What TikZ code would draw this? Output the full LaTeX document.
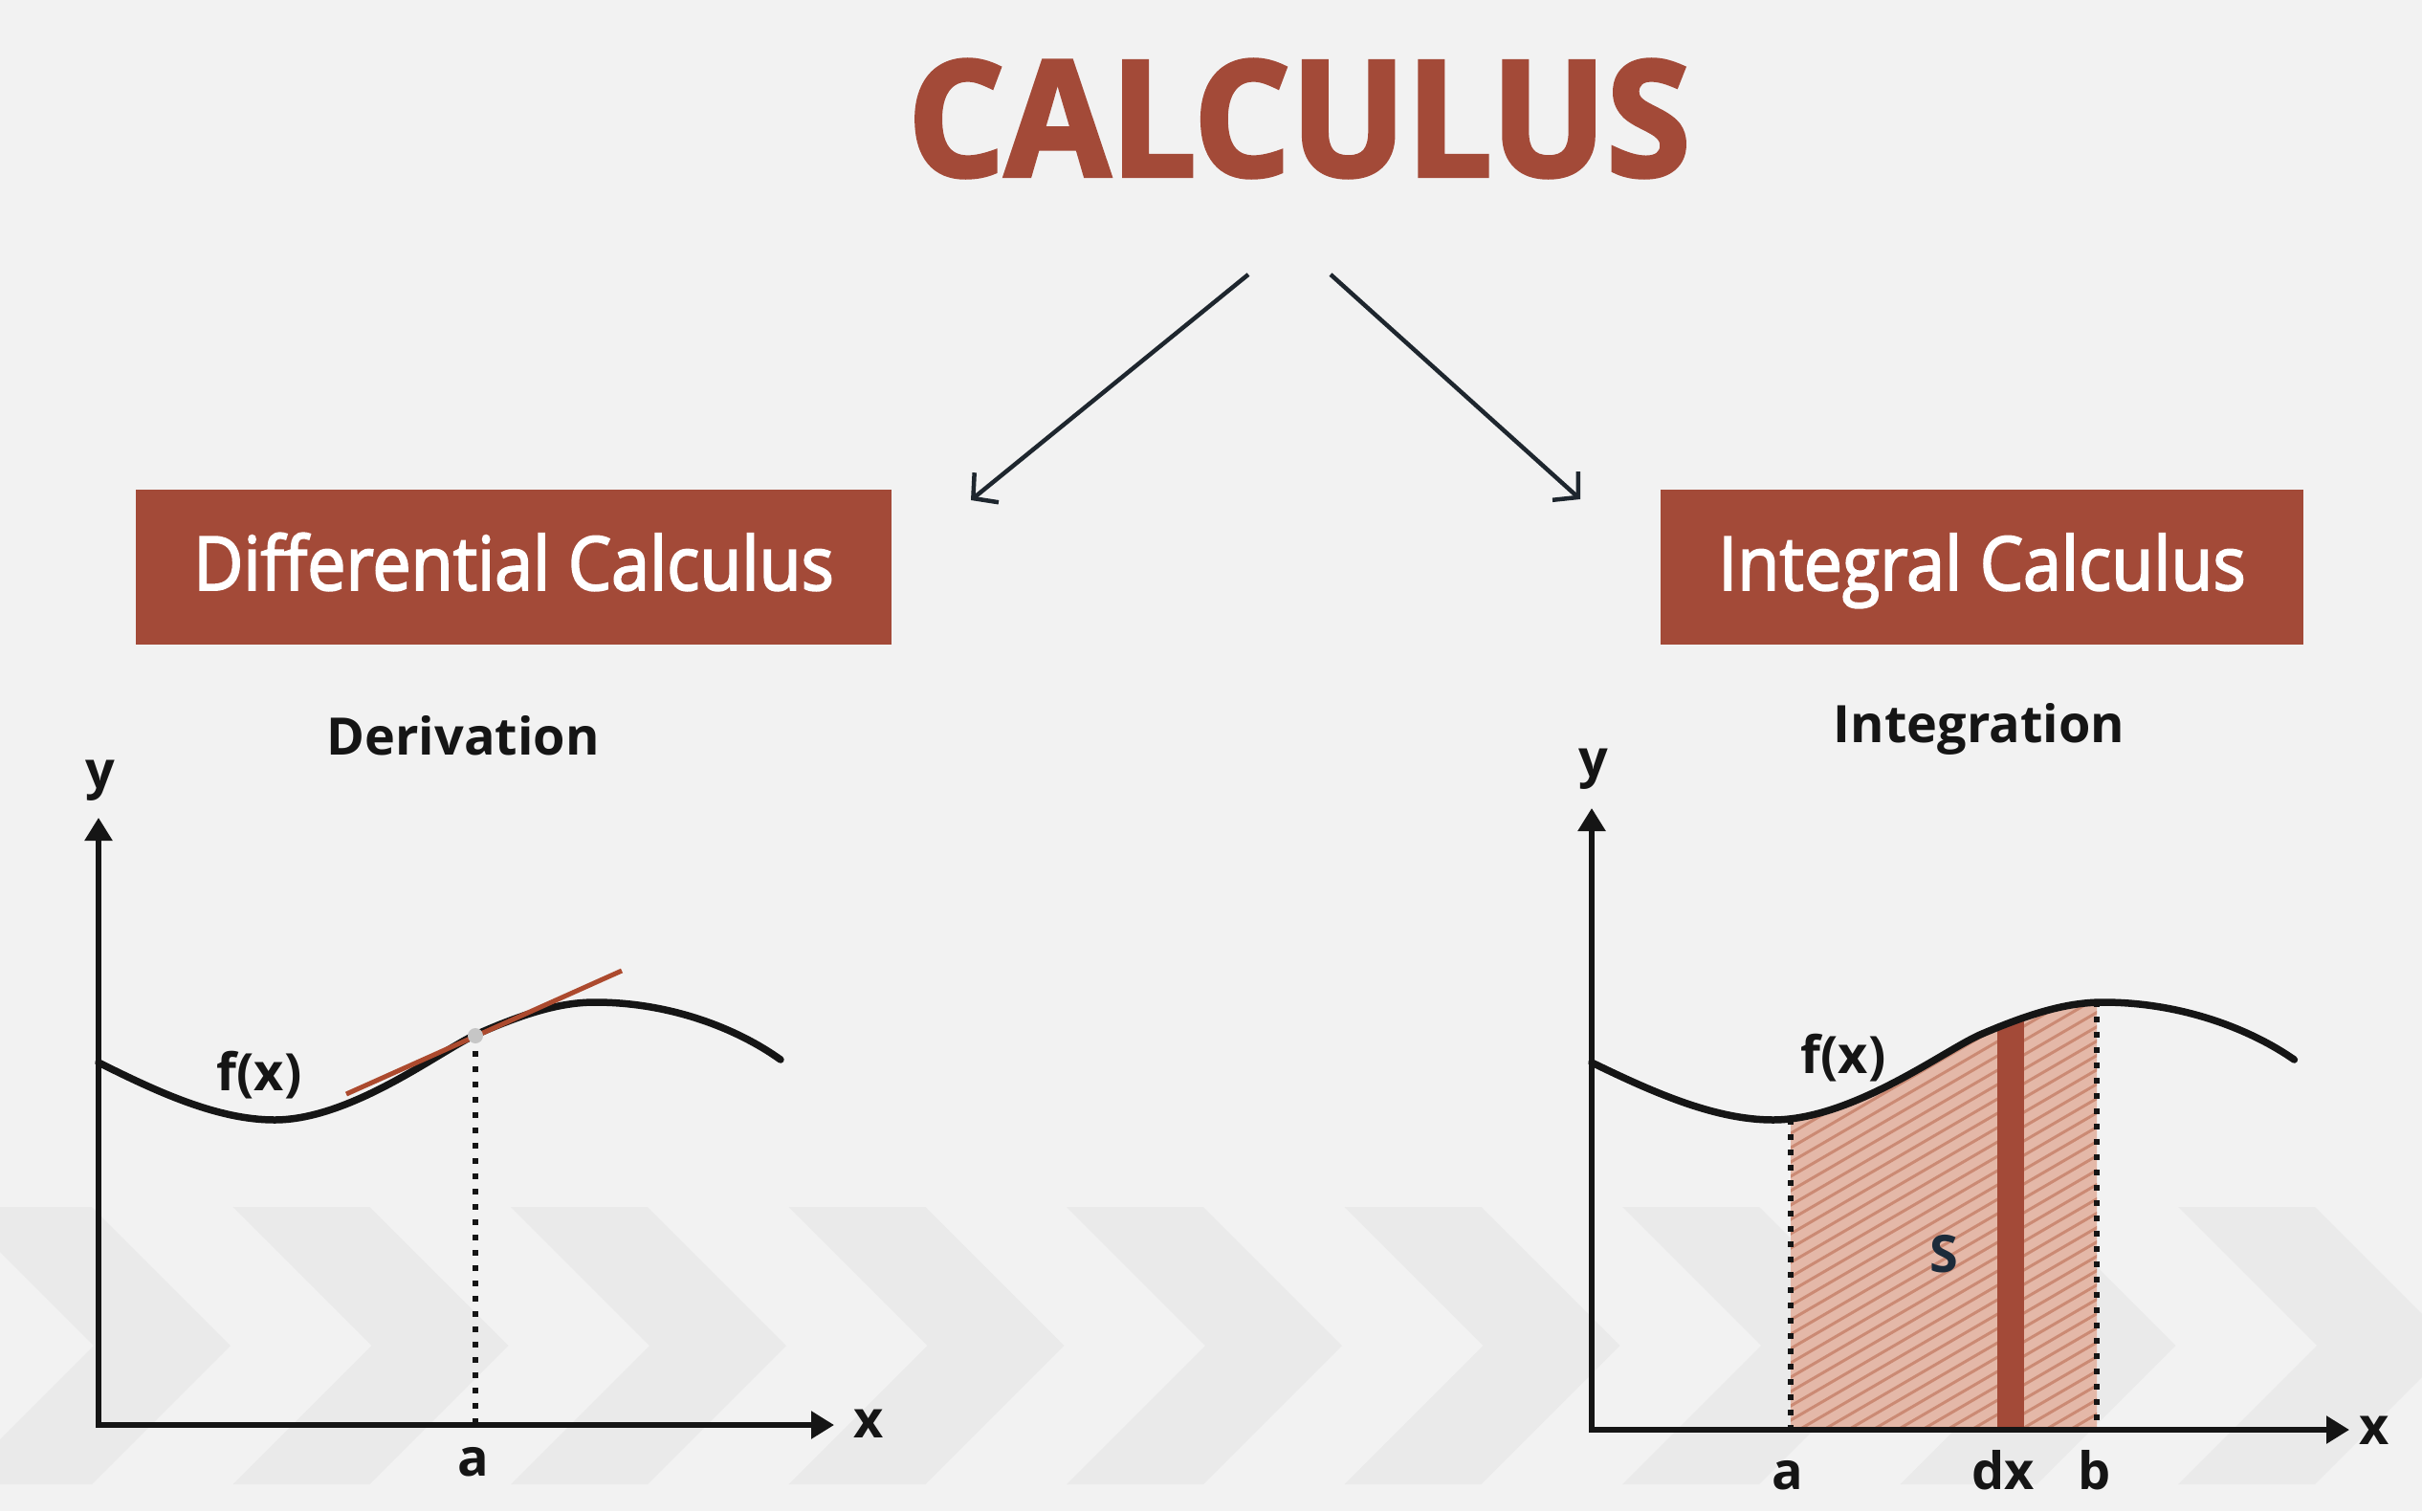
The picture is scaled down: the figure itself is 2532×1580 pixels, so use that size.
\documentclass[tikz,border=0pt]{standalone}
\usepackage{fontspec}
\setmainfont{Open Sans}
\newfontfamily\titlefont{Open Sans}[BoldFeatures={FakeBold=2.5}]
\newfontfamily\boxfont{Open Sans}[FakeBold=2.5]
\usetikzlibrary{arrows.meta}
\definecolor{rust}{HTML}{A34A38}
\definecolor{bgcol}{HTML}{F2F2F2}
\definecolor{chev}{HTML}{EAEAEA}
\definecolor{salmon}{HTML}{E4B8A8}
\definecolor{hatchc}{HTML}{CB8A74}
\definecolor{tang}{HTML}{AC4A2E}
\definecolor{ink}{HTML}{151515}
\definecolor{navy}{HTML}{1C2B3A}
\definecolor{arrowc}{HTML}{1E262E}
\begin{document}
\begin{tikzpicture}[x=1pt,y=-1pt,
  lbl/.style={font=\fontsize{54}{60}\selectfont\bfseries, anchor=base, inner sep=0pt, text=ink},
  boxnode/.style={fill=rust, minimum width=790pt, minimum height=162pt, inner sep=0pt},
  boxtext/.style={text=white, inner sep=0pt, text height=48pt, text depth=0pt,
     font=\boxfont\fontsize{78}{84}\selectfont, xscale=0.92, transform shape},
  axis/.style={line width=5.5pt, ink, {Triangle[length=24pt,width=28pt]}-{Triangle[length=24pt,width=28pt]}},
  fline/.style={line width=7.5pt, ink, line cap=round},
  dotline/.style={line width=6pt, ink, dash pattern=on 6pt off 10pt},
  splitarrow/.style={line width=4.5pt, arrowc, -{Straight Barb[length=18pt,width=40pt,line width=4.5pt]}},
  fcurve/.style={insert path={(0,1111) .. controls (60,1141) and (124,1171) .. (184,1171)
     .. controls (264,1171) and (357,1099) .. (394,1082)
     .. controls (444,1060) and (482,1048) .. (519,1048)
     .. controls (597,1048) and (667,1075) .. (713,1108)}}
]
\useasboundingbox (0,0) rectangle (2532,1580);
\fill[bgcol] (0,0) rectangle (2532,1580);
% chevron band
\begin{scope}
\clip (0,0) rectangle (2532,1580);
\foreach \k in {-4,...,4}{
  \pgfmathsetmacro\xa{1115+290.5*\k}
  \fill[chev] (\xa,1262) -- ++(143,0) -- ++(145,145) -- ++(-145,145) -- ++(-143,0) -- ++(145,-145) -- cycle;
}
\end{scope}

% title and branches
\node[anchor=base, inner sep=0pt, text=rust, font=\titlefont\bfseries\fontsize{168}{170}\selectfont,
      xscale=0.95, transform shape] (title) at (1358,184) {CALCULUS};
\coordinate (ls) at (1305,287);
\coordinate (le) at (1015,523);
\coordinate (rs) at (1391,287);
\coordinate (re) at (1652,522);
\draw[splitarrow] (ls) -- (le);
\draw[splitarrow] (rs) -- (re);

\node[boxnode] (dbox) at (537,593) {};
\node[boxtext] (dtext) at (dbox.center) {Differential Calculus};
\node[boxnode, minimum width=672pt] (ibox) at (2072,593) {};
\node[boxtext] (itext) at (ibox.center) {Integral Calculus};

\node[lbl] (deriv) at (484,789) {Derivation};
\node[lbl] (integ) at (2069,776) {Integration};

% ---------- left graph ----------
\coordinate (lo) at (103,1490);
\coordinate (ly) at (103,855);
\coordinate (lx) at (872,1490);
\begin{scope}[shift={(103,0)}]
  \draw[fline, fcurve];
\end{scope}
\coordinate (tA) at (362,1144);
\coordinate (tB) at (650,1015);
\coordinate (pt) at (497,1083);
\coordinate (pa) at (497,1490);
\draw[line width=5pt, tang] (tA) -- (tB);
\draw[dotline] (pt) -- (pa);
\fill[gray!45] (pt) circle (8pt);
\draw[axis] (ly) -- (lo) -- (lx);
\node[lbl] (ly lbl) at (105,824) {y};
\node[lbl] (lx lbl) at (908,1503) {x};
\node[lbl] (la lbl) at (495,1543) {a};
\node[lbl] (lf lbl) at (271,1140) {f(x)};

% ---------- right graph ----------
\coordinate (ro) at (1664,1495);
\coordinate (ry) at (1664,845);
\coordinate (rx) at (2456,1495);
\begin{scope}[shift={(1664,0)}, xscale=1.03]
  \begin{scope}
    \clip (202,900) rectangle (512.6,1495);
    \clip[fcurve] -- (713,1495) -- (0,1495) -- cycle;
    \fill[salmon] (0,900) rectangle (713,1495);
    \foreach \i in {-32,...,13}{
      \draw[hatchc, line width=3pt] (202+\i*25,1500) -- ++(800,-480);
    }
    \fill[rust] (411.7,900) rectangle (438.8,1495);
  \end{scope}
  \draw[fline, fcurve];
  \coordinate (ra top) at (202,1170);
  \coordinate (ra bot) at (202,1495);
  \coordinate (rb top) at (512.6,1047);
  \coordinate (rb bot) at (512.6,1495);
\end{scope}
\draw[dotline] (ra top) -- (ra bot);
\draw[dotline] (rb top) -- (rb bot);
\draw[axis] (ry) -- (ro) -- (rx);
\node[lbl] (ry lbl) at (1666,812) {y};
\node[lbl] (rx lbl) at (2482,1510) {x};
\node[lbl] (ra lbl) at (1869,1557) {a};
\node[lbl] (rdx lbl) at (2094,1557) {dx};
\node[lbl] (rb lbl) at (2190,1557) {b};
\node[lbl] (rf lbl) at (1927,1122) {f(x)};
\node[lbl, text=navy] (rs lbl) at (2032,1330) {S};
\end{tikzpicture}
\end{document}
